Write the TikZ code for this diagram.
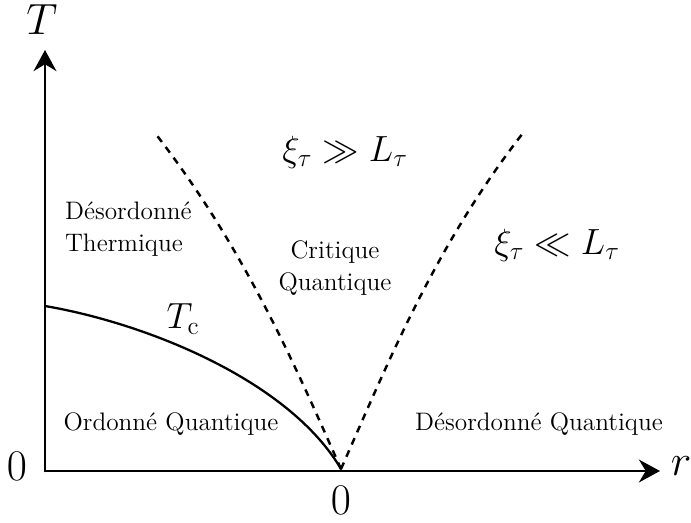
\documentclass[tikz,border=0pt]{standalone}
\usepackage{amsmath,amssymb}
\usetikzlibrary{arrows.meta}

\begin{document}
\begin{tikzpicture}[x=0.02cm,y=0.02cm,>={Stealth[length=12pt,width=13pt]},line cap=round,line join=round,
    every node/.style={inner sep=1pt},
    axisline/.style={line width=1.5pt},
    axislab/.style={font=\Huge},
    mathlab/.style={font=\fontsize{19.5}{23}\selectfont},
    region/.style={font=\Large,align=center},
    crossover/.style={line width=1.4pt,dash pattern=on 4pt off 3.6pt,line cap=butt},
    tcline/.style={line width=1.3pt}]
    \useasboundingbox (0,0) rectangle (691,522);
    % axes
    \coordinate (O) at (45,51);
    \coordinate (Tend) at (45,472);
    \coordinate (rend) at (660,51);
    \coordinate (QCP) at (341,53);
    \draw[axisline,->] (O) -- (Tend);
    \draw[axisline,->] (O) -- (rend);
    \node[axislab] (Tlab) at (42,502) {$T$};
    \node[axislab] (rlab) at (681,56) {$r$};
    \node[axislab] (zeroT) at (17,56) {$0$};
    \node[axislab] (zeroR) at (341,22) {$0$};
    % crossover lines
    \coordinate (leftTop) at (155,389);
    \coordinate (rightTop) at (523,389);
    \draw[crossover] (QCP) .. controls (292,164) and (242,277) .. (leftTop);
    \draw[crossover] (QCP) .. controls (390,164) and (436,277) .. (rightTop);
    % transition line
    \coordinate (Tc0) at (45,216);
    \draw[tcline] (Tc0) .. controls (150,198) and (290,140) .. (QCP);
    \node[mathlab] (Tc) at (183,203) {$T_{\mathrm{c}}$};
    % regions
    \node[region,align=left,anchor=west] (thermal) at (63,293) {Désordonné\\Thermique};
    \node[region] (critical) at (335,254) {Critique\\Quantique};
    \node[region] (ordered) at (171,98) {Ordonné Quantique};
    \node[region] (disordered) at (539,98) {Désordonné Quantique};
    \node[mathlab] (strong) at (345,370) {$\xi_\tau \gg L_\tau$};
    \node[mathlab] (weak) at (557,277) {$\xi_\tau \ll L_\tau$};
\end{tikzpicture}
\end{document}
